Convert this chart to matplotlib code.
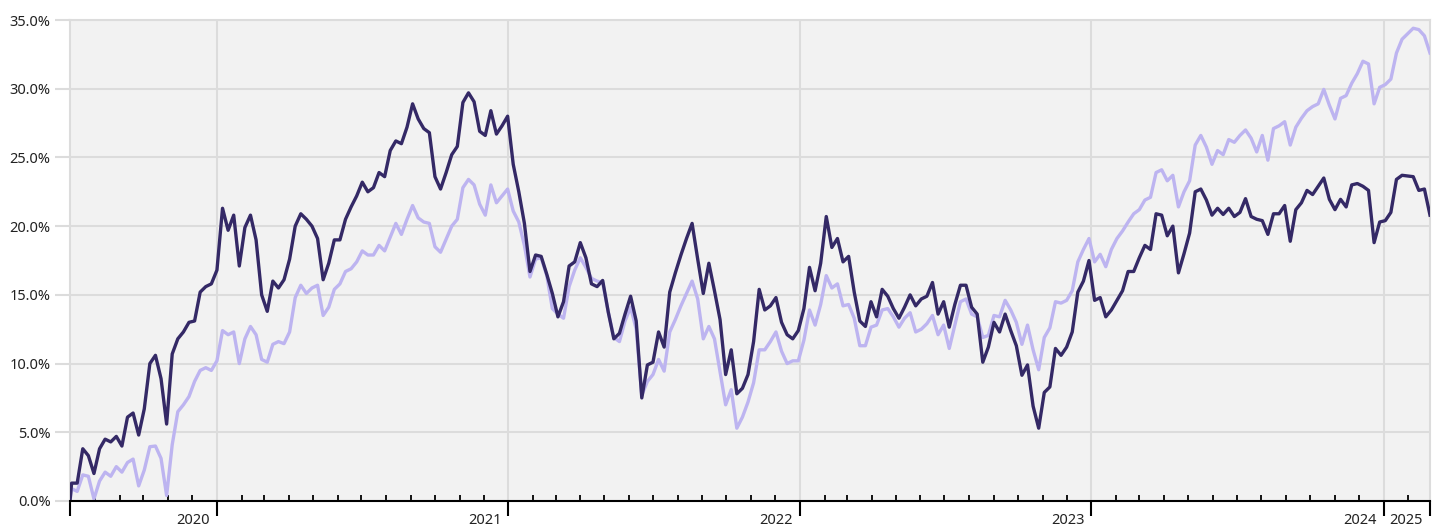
import numpy as np
import pandas as pd
import matplotlib
matplotlib.use("Agg")
import matplotlib.pyplot as plt
import matplotlib.dates as mdates
import matplotlib.transforms as mtransforms
from matplotlib.ticker import MultipleLocator, FuncFormatter

plt.rcParams['font.family'] = ['Noto Sans', 'DejaVu Sans']

# first point is the start date, then weekly Fridays
start_date = "2020-07-01"
first_friday = "2020-07-03"
end_date = "2025-02-28"

dark_series = [
    0.0, 1.3, 1.3, 3.8, 3.3, 2.0, 3.8, 4.5, 4.3, 4.7, 4.0, 6.1, 6.4, 4.8, 6.7, 10.0,
    10.6, 8.9, 5.6, 10.7, 11.8, 12.3, 13.0, 13.1, 15.2, 15.6, 15.8, 16.8, 21.3, 19.7,
    20.8, 17.1, 19.9, 20.8, 19.0, 15.0, 13.8, 16.0, 15.5, 16.1, 17.6, 20.0, 20.9, 20.5,
    20.0, 19.1, 16.1, 17.3, 19.0, 19.0, 20.5, 21.4, 22.2, 23.2, 22.5, 22.8, 23.9, 23.6,
    25.5, 26.2, 26.0, 27.2, 28.9, 27.8, 27.1, 26.8, 23.6, 22.7, 23.9, 25.2, 25.8, 29.0,
    29.7, 29.05, 26.9, 26.6, 28.4, 26.7, 27.3, 28.0, 24.5, 22.5, 20.2, 16.7, 17.9, 17.8,
    16.5, 15.1, 13.4, 14.5, 17.1, 17.4, 18.8, 17.7, 15.8, 15.6, 16.05, 13.75, 11.8, 12.2,
    13.6, 14.9, 13.1, 7.5, 9.9, 10.1, 12.3, 11.2, 15.2, 16.6, 17.9, 19.1, 20.2, 17.6,
    15.1, 17.3, 15.3, 13.2, 9.2, 11.0, 7.8, 8.2, 9.2, 11.6, 15.4, 13.9, 14.2, 14.8,
    13.0, 12.1, 11.8, 12.4, 14.0, 17.0, 15.3, 17.3, 20.7, 18.45, 19.1, 17.4, 17.8, 15.2,
    13.1, 12.7, 14.5, 13.4, 15.4, 14.9, 14.0, 13.3, 14.1, 15.0, 14.2, 14.7, 14.9, 15.9,
    13.6, 14.5, 12.65, 14.3, 15.7, 15.7, 14.1, 13.6, 10.1, 11.2, 13.0, 12.3, 13.6, 12.4,
    11.3, 9.15, 9.9, 6.9, 5.3, 7.9, 8.3, 11.1, 10.6, 11.2, 12.3, 15.2, 16.0, 17.5,
    14.6, 14.8, 13.4, 13.9, 14.6, 15.3, 16.7, 16.7, 17.7, 18.6, 18.3, 20.9, 20.8, 19.3,
    20.0, 16.6, 18.0, 19.5, 22.5, 22.7, 21.9, 20.8, 21.3, 20.85, 21.3, 20.7, 21.0, 22.0,
    20.7, 20.5, 20.4, 19.4, 20.9, 20.9, 21.5, 18.9, 21.2, 21.7, 22.6, 22.3, 22.9, 23.5,
    21.95, 21.2, 21.95, 21.4, 23.0, 23.1, 22.9, 22.6, 18.8, 20.3, 20.4, 21.0, 23.4, 23.7,
    23.65, 23.6, 22.6, 22.7, 20.8,
]

light_series = [
    0.0, 0.9, 0.7, 1.9, 1.8, 0.15, 1.45, 2.1, 1.8, 2.5, 2.1, 2.8, 3.05, 1.1, 2.25, 3.95,
    4.0, 3.1, 0.4, 4.1, 6.5, 7.0, 7.6, 8.7, 9.5, 9.7, 9.5, 10.2, 12.4, 12.1,
    12.3, 10.0, 11.8, 12.7, 12.1, 10.3, 10.1, 11.4, 11.6, 11.45, 12.3, 14.8, 15.7, 15.1,
    15.5, 15.7, 13.5, 14.1, 15.4, 15.8, 16.7, 16.9, 17.4, 18.2, 17.9, 17.9, 18.6, 18.2,
    19.2, 20.2, 19.4, 20.5, 21.5, 20.6, 20.3, 20.2, 18.5, 18.1, 19.05, 20.0, 20.5, 22.8,
    23.4, 23.0, 21.6, 20.8, 23.0, 21.7, 22.2, 22.7, 21.1, 20.3, 18.6, 16.3, 17.6, 17.7,
    16.4, 14.0, 13.6, 13.3, 15.6, 16.8, 17.7, 17.0, 16.2, 16.0, 15.9, 13.75, 11.9, 11.6,
    13.1, 14.1, 12.5, 7.7, 8.7, 9.2, 10.3, 9.45, 12.3, 13.2, 14.2, 15.1, 16.0, 14.7,
    11.8, 12.7, 11.8, 9.4, 7.0, 8.1, 5.3, 6.1, 7.2, 8.6, 11.0, 11.0, 11.6, 12.3,
    10.9, 10.0, 10.2, 10.2, 11.7, 13.9, 12.8, 14.3, 16.4, 15.5, 15.8, 14.2, 14.3, 13.3,
    11.3, 11.3, 12.65, 12.8, 13.9, 14.0, 13.4, 12.65, 13.3, 13.7, 12.3, 12.5, 12.9, 13.5,
    12.1, 12.8, 11.1, 12.8, 14.5, 14.7, 13.6, 13.4, 11.9, 12.05, 13.5, 13.4, 14.6, 13.9,
    13.0, 11.4, 12.8, 11.0, 9.55, 11.9, 12.6, 14.5, 14.4, 14.6, 15.3, 17.4, 18.3, 19.1,
    17.4, 17.95, 17.05, 18.3, 19.1, 19.65, 20.3, 20.9, 21.2, 21.9, 22.1, 23.9, 24.1, 23.3,
    23.7, 21.4, 22.5, 23.3, 25.9, 26.6, 25.75, 24.5, 25.5, 25.2, 26.3, 26.1, 26.6, 27.0,
    26.4, 25.4, 26.6, 24.8, 27.1, 27.3, 27.6, 25.9, 27.2, 27.85, 28.4, 28.7, 28.9, 29.95,
    28.8, 27.8, 29.3, 29.5, 30.4, 31.1, 32.0, 31.8, 28.9, 30.1, 30.3, 30.7, 32.6, 33.6,
    34.0, 34.4, 34.3, 33.85, 32.6,
]

year_bounds = ["2021-01-01", "2022-01-01", "2023-01-01", "2024-01-01", "2025-01-01"]
year_labels = ["2020", "2021", "2022", "2023", "2024", "2025"]

dates = pd.DatetimeIndex([pd.Timestamp(start_date)]).append(
    pd.date_range(first_friday, periods=len(dark_series) - 1, freq="7D"))
bounds = pd.to_datetime(year_bounds)
x0, x1 = pd.Timestamp(start_date), pd.Timestamp(end_date)

grid_c = '#dcdcdc'
fig = plt.figure(figsize=(14.43, 5.29), dpi=100)
ax = fig.add_axes([70 / 1443, 28 / 529, 1360 / 1443, 481 / 529])
ax.set_facecolor('#f2f2f2')
ax.set_axisbelow(True)

ax.plot(dates, light_series, color='#bdb4f0', lw=2.4, zorder=3)
ax.plot(dates, dark_series, color='#342966', lw=2.4, zorder=4)

ax.set_xlim(x0, x1)
ax.set_ylim(0, 35)
ax.yaxis.set_major_locator(MultipleLocator(5))
ax.yaxis.set_major_formatter(FuncFormatter(lambda v, p: f"{v:.1f}%"))
ax.grid(axis='y', color=grid_c, lw=1.5)
for b in bounds:
    ax.axvline(b, color=grid_c, lw=1.5, zorder=1)

for s in ['left', 'right', 'top']:
    ax.spines[s].set_color(grid_c)
    ax.spines[s].set_linewidth(1.5)
ax.spines['bottom'].set_color('black')
ax.spines['bottom'].set_linewidth(1.5)
ax.spines['bottom'].set_zorder(5)

ax.tick_params(axis='y', length=11, width=1.5, color=grid_c, labelsize=10.5,
               labelcolor='#222222', pad=3)

ax.xaxis.remove_overlapping_locs = False
ax.set_xticks([x0] + list(bounds) + [x1])
ax.xaxis.set_minor_locator(mdates.MonthLocator())
ax.tick_params(axis='x', which='major', direction='out', length=11, width=1.5,
               color='black', labelbottom=False)
ax.tick_params(axis='x', which='minor', direction='in', length=4.5, width=1.3,
               color='black')

# year labels sit just left of the tick that closes each year
label_x = list(bounds) + [x1]
trans = mtransforms.blended_transform_factory(ax.transData, ax.transAxes)
trans = trans + mtransforms.ScaledTranslation(-7 / 100, -20 / 100, fig.dpi_scale_trans)
for lx, lab in zip(label_x, year_labels):
    ax.text(lx, 0, lab, transform=trans, ha='right', va='center', fontsize=10.5,
            color='#222222')

fig.savefig("out.png", dpi=100)
